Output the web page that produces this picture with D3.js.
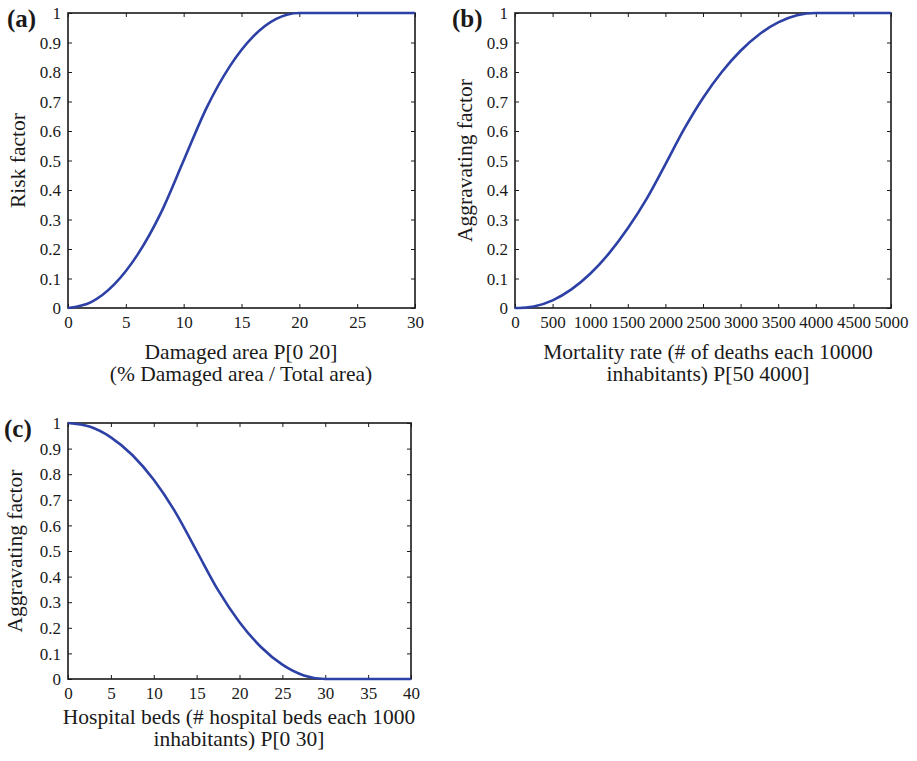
<!DOCTYPE html>
<html>
<head>
<meta charset="utf-8">
<script src="https://cdn.jsdelivr.net/npm/d3@7"></script>
<style>
  html, body { margin: 0; padding: 0; background: #ffffff; }
  svg { display: block; }
  text { font-family: "Liberation Serif", "Times New Roman", Times, serif; fill: #1a1a1a; }
</style>
</head>
<body>
<svg id="chart" width="917" height="761"></svg>
<script>
// ---------------- data ----------------
const aX = [0, 2, 4, 6, 8, 10, 12, 14, 16, 18, 20, 25, 30];
const aY = [0, 0.02, 0.08, 0.18, 0.32, 0.5, 0.68, 0.82, 0.92, 0.98, 1, 1, 1];

const bX = [0, 50, 250, 500, 750, 1000, 1250, 1500, 1750, 2000, 2250, 2500, 2750, 3000, 3250, 3500, 3750, 4000, 4500, 5000];
const bY = [0, 0, 0.005, 0.026, 0.063, 0.116, 0.185, 0.27, 0.37, 0.487, 0.607, 0.712, 0.8, 0.872, 0.928, 0.968, 0.992, 1, 1, 1];

const cX = [0, 2.5, 5, 7.5, 10, 12.5, 15, 17.5, 20, 22.5, 25, 27.5, 30, 35, 40];
const cY = [1, 0.986, 0.944, 0.875, 0.778, 0.653, 0.5, 0.347, 0.222, 0.125, 0.056, 0.014, 0, 0, 0];

const aXTicks = [0, 5, 10, 15, 20, 25, 30];
const bXTicks = [0, 500, 1000, 1500, 2000, 2500, 3000, 3500, 4000, 4500, 5000];
const cXTicks = [0, 5, 10, 15, 20, 25, 30, 35, 40];
const yTicks = [0, 0.1, 0.2, 0.3, 0.4, 0.5, 0.6, 0.7, 0.8, 0.9, 1];

const panelTags = ["(a)", "(b)", "(c)"];
const yTitles = ["Risk factor", "Aggravating factor", "Aggravating factor"];
const xTitles = [
  ["Damaged area P[0 20]", "(% Damaged area / Total area)"],
  ["Mortality rate (# of deaths each 10000", "inhabitants) P[50 4000]"],
  ["Hospital beds (# hospital beds each 1000", "inhabitants) P[0 30]"]
];

// ---------------- layout ----------------
const panels = [
  { xs: aX, ys: aY, xt: aXTicks, dom: [0, 30],   box: {l: 68,  r: 415, t: 13,  b: 308}, tagX: 7,   ylabX: 25,  xlabCx: 241, xlabY: [359, 381], i: 0 },
  { xs: bX, ys: bY, xt: bXTicks, dom: [0, 5000], box: {l: 515, r: 891, t: 13,  b: 308}, tagX: 452, ylabX: 472, xlabCx: 708, xlabY: [359, 381], i: 1 },
  { xs: cX, ys: cY, xt: cXTicks, dom: [0, 40],   box: {l: 68,  r: 411, t: 423, b: 679}, tagX: 4,   ylabX: 22,  xlabCx: 239, xlabY: [724, 746], i: 2 }
];

const svg = d3.select("#chart");
const lineColor = "#2c40a6";
const frameColor = "#1a1a1a";
const tickLen = 4;

panels.forEach(p => {
  const B = p.box;
  const x = d3.scaleLinear().domain(p.dom).range([B.l, B.r]);
  const y = d3.scaleLinear().domain([0, 1]).range([B.b, B.t]);
  const g = svg.append("g");

  const bottom = g.append("g").attr("transform", `translate(0,${B.b})`)
    .call(d3.axisBottom(x).tickValues(p.xt).tickSizeInner(-tickLen).tickSizeOuter(0).tickPadding(8).tickFormat(d3.format("d")));
  const top = g.append("g").attr("transform", `translate(0,${B.t})`)
    .call(d3.axisTop(x).tickValues(p.xt).tickSizeInner(-tickLen).tickSizeOuter(0).tickFormat(""));
  const left = g.append("g").attr("transform", `translate(${B.l},0)`)
    .call(d3.axisLeft(y).tickValues(yTicks).tickSizeInner(-tickLen).tickSizeOuter(0).tickPadding(7).tickFormat(d => d === 0 ? "0" : d === 1 ? "1" : d3.format(".1f")(d)));
  const right = g.append("g").attr("transform", `translate(${B.r},0)`)
    .call(d3.axisRight(y).tickValues(yTicks).tickSizeInner(-tickLen).tickSizeOuter(0).tickFormat(""));

  [bottom, top, left, right].forEach(ax => {
    ax.attr("font-family", null);
    ax.select(".domain").remove();
    ax.selectAll(".tick line").attr("stroke", frameColor).attr("stroke-width", 1);
    ax.selectAll(".tick text").attr("font-size", 17).attr("fill", frameColor);
  });
  left.selectAll(".tick text").attr("dy", "0.33em");
  bottom.selectAll(".tick text").attr("dy", "0.71em");

  g.append("rect")
    .attr("x", B.l).attr("y", B.t)
    .attr("width", B.r - B.l).attr("height", B.b - B.t)
    .attr("fill", "none").attr("stroke", frameColor).attr("stroke-width", 1.6);

  const pts = p.xs.map((v, k) => [v, p.ys[k]]);
  g.append("path")
    .datum(pts)
    .attr("fill", "none")
    .attr("stroke", lineColor)
    .attr("stroke-width", 2.6)
    .attr("stroke-linejoin", "round")
    .attr("d", d3.line().x(d => x(d[0])).y(d => y(d[1])).curve(d3.curveMonotoneX));

  g.append("text")
    .attr("x", p.tagX).attr("y", B.t + 14)
    .attr("font-size", 25).attr("font-weight", "bold")
    .text(panelTags[p.i]);

  g.append("text")
    .attr("transform", `translate(${p.ylabX},${(B.t + B.b) / 2}) rotate(-90)`)
    .attr("text-anchor", "middle")
    .attr("font-size", 21.5)
    .text(yTitles[p.i]);

  xTitles[p.i].forEach((s, k) => {
    g.append("text")
      .attr("x", p.xlabCx).attr("y", p.xlabY[k])
      .attr("text-anchor", "middle")
      .attr("font-size", 21.5)
      .text(s);
  });
});
</script>
</body>
</html>
